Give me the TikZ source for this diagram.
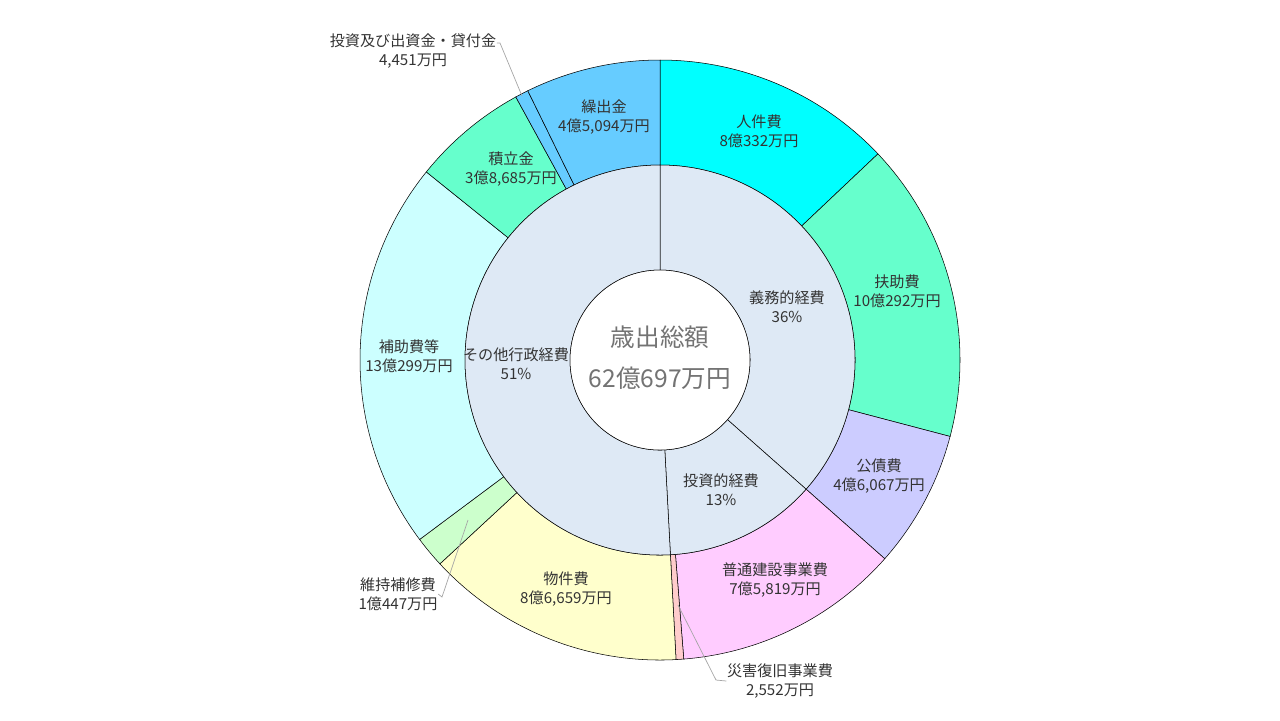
\documentclass[tikz,border=0pt]{standalone}
\usepackage{fontspec}
\setmainfont{Noto Sans CJK JP}
\definecolor{jinken}{HTML}{00FFFF}
\definecolor{fujo}{HTML}{66FFCC}
\definecolor{kousai}{HTML}{CCCCFF}
\definecolor{futsuu}{HTML}{FFCCFF}
\definecolor{saigai}{HTML}{FFCCCC}
\definecolor{bukken}{HTML}{FFFFCC}
\definecolor{iji}{HTML}{CCFFCC}
\definecolor{hojo}{HTML}{CCFFFF}
\definecolor{tsumi}{HTML}{66FFCC}
\definecolor{kuri}{HTML}{66CCFF}
\definecolor{inner}{HTML}{DEE9F5}
\definecolor{txt}{HTML}{333333}
\tikzset{
    lbl/.style={align=center, text=txt, font=\fontsize{4.3}{5.3}\selectfont, inner sep=0pt},
    leader/.style={draw=gray!70, very thin}
}
% sector: start angle, end angle (clockwise from top), colour, inner r, outer r
\newcommand{\seg}[5]{%
    \filldraw[fill=#3, draw=black, line width=0.15pt]
        ({#1-90}:#5) arc ({#1-90}:{#2-90}:#5) -- ({#2-90}:#4) arc ({#2-90}:{#1-90}:#4) -- cycle;}
\begin{document}
\begin{tikzpicture}[x=0.01cm, y=-0.01cm]
    \useasboundingbox (0,0) rectangle (1280,720);
    \begin{scope}[shift={(660,360)}]
        % outer ring
        \seg{0}{46.59}{jinken}{195}{300}
        \seg{46.59}{104.76}{fujo}{195}{300}
        \seg{104.76}{131.48}{kousai}{195}{300}
        \seg{131.48}{175.46}{futsuu}{195}{300}
        \seg{175.46}{176.94}{saigai}{195}{300}
        \seg{176.94}{227.20}{bukken}{195}{300}
        \seg{227.20}{233.26}{iji}{195}{300}
        \seg{233.26}{308.83}{hojo}{195}{300}
        \seg{308.83}{331.27}{tsumi}{195}{300}
        \seg{331.27}{333.85}{kuri}{195}{300}
        \seg{333.85}{360}{kuri}{195}{300}
        % inner ring
        \seg{0}{131.48}{inner}{90}{195}
        \seg{131.48}{176.94}{inner}{90}{195}
        \seg{176.94}{360}{inner}{90}{195}
        \filldraw[fill=white, draw=black, line width=0.15pt] (0,0) circle (90);
    \end{scope}

    \node[lbl, text=gray!90!black, font=\fontsize{7}{8}\selectfont] (title) at (660,337) {歳出総額};
    \node[lbl, text=gray!90!black, font=\fontsize{7}{8}\selectfont] (total) at (660,378) {62億697万円};

    \node[lbl] (jinkenL) at (759,131) {人件費\\8億332万円};
    \node[lbl] (fujoL)   at (897,291) {扶助費\\10億292万円};
    \node[lbl] (kousaiL) at (879,476) {公債費\\4億6,067万円};
    \node[lbl] (futsuuL) at (775,580) {普通建設事業費\\7億5,819万円};
    \node[lbl] (saigaiL) at (780,681) {災害復旧事業費\\2,552万円};
    \node[lbl] (bukkenL) at (566,589) {物件費\\8億6,659万円};
    \node[lbl] (ijiL)    at (398,594) {維持補修費\\1億447万円};
    \node[lbl] (hojoL)   at (409,356) {補助費等\\13億299万円};
    \node[lbl] (tsumiL)  at (511,169) {積立金\\3億8,685万円};
    \node[lbl] (toushiL) at (413,51)  {投資及び出資金・貸付金\\4,451万円};
    \node[lbl] (kuriL)   at (604,117) {繰出金\\4億5,094万円};
    \node[lbl] (gimuL)   at (787,307) {義務的経費\\36\%};
    \node[lbl] (toushiteki) at (721,490) {投資的経費\\13\%};
    \node[lbl] (sonotaL) at (516,364) {その他行政経費\\51\%};

    % leaders
    \coordinate (saigaiP) at (678,605);
    \coordinate (ijiP) at (468,520);
    \coordinate (toushiP) at (522,96);
    \draw[leader] (saigaiP) -- (716,680) -- (saigaiL.west);
    \draw[leader] (ijiP) -- (442,597) -- (ijiL.east);
    \draw[leader] (toushiP) -- (500,43) -- (toushiL.east |- 0,43);
\end{tikzpicture}
\end{document}
